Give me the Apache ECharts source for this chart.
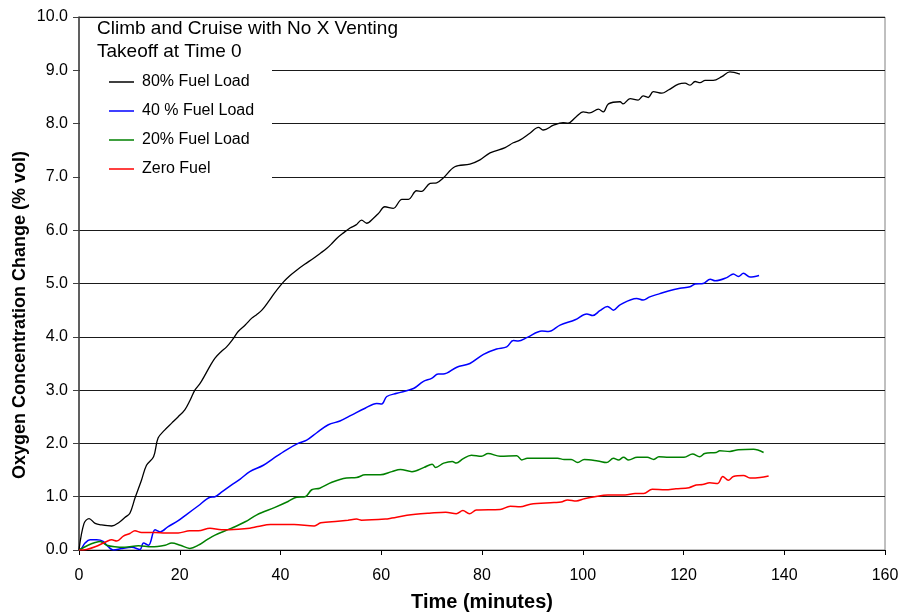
<!DOCTYPE html>
<html>
<head>
<meta charset="utf-8">
<title>Oxygen Concentration Change</title>
<script src="https://cdn.jsdelivr.net/npm/echarts@6/dist/echarts.min.js"></script>
<style>
  html, body { margin: 0; padding: 0; background: #fff; }
  #chart { width: 899px; height: 613px; }
</style>
</head>
<body>
<div id="chart"></div>
<script>
// Series labels, as they appear in the legend
const seriesNames = ['80% Fuel Load', '40 % Fuel Load', '20% Fuel Load', 'Zero Fuel'];

// [time (minutes), O2 change (% vol)]
const fuel80 = [[0,0],[1.0,0.5],[2.0,0.59],[3.2,0.50],[4.5,0.47],[6.5,0.45],[8.0,0.52],[9.1,0.61],[10.1,0.69],[11.1,0.97],[12.4,1.31],[13.4,1.59],[14.8,1.75],[15.7,2.10],[17.0,2.25],[18.4,2.38],[19.7,2.50],[21.0,2.63],[22.0,2.80],[23.0,3.00],[24.0,3.12],[25.0,3.28],[26.0,3.45],[27.0,3.60],[28.2,3.72],[29.3,3.81],[30.5,3.95],[31.6,4.10],[33.0,4.22],[34.3,4.35],[35.3,4.42],[36.3,4.50],[37.6,4.66],[38.8,4.82],[40.6,5.03],[41.9,5.15],[43.2,5.25],[44.8,5.36],[46.5,5.47],[47.8,5.56],[49.2,5.66],[50.2,5.75],[51.2,5.85],[52.5,5.95],[53.8,6.04],[55.0,6.10],[56.1,6.19],[57.1,6.13],[58.4,6.22],[59.5,6.32],[60.7,6.44],[62.4,6.41],[64.1,6.58],[65.4,6.58],[67.0,6.74],[68.0,6.73],[69.7,6.88],[71.0,6.89],[72.3,6.98],[74.6,7.19],[77.6,7.24],[79.6,7.32],[81.6,7.45],[84.6,7.55],[86.2,7.64],[87.5,7.69],[89.5,7.82],[91.2,7.93],[92.2,7.88],[94.2,7.97],[96.1,8.02],[97.1,8.01],[98.6,8.12],[100.1,8.22],[101.4,8.20],[103.1,8.27],[104.1,8.22],[105.1,8.37],[107.4,8.41],[108.0,8.37],[109.4,8.47],[111.0,8.44],[112.0,8.52],[113.0,8.49],[114.0,8.60],[115.7,8.57],[117.0,8.63],[119.0,8.74],[120.3,8.76],[121.3,8.72],[122.3,8.79],[123.3,8.77],[124.3,8.81],[125.9,8.81],[127.6,8.88],[129.2,8.97],[131.2,8.93]];

const fuel40 = [[0,0],[0.5,0.03],[1.2,0.13],[2.2,0.19],[3.5,0.19],[4.8,0.16],[5.8,0.06],[6.8,0.0],[8.5,0.03],[10.5,0.05],[12.1,0.01],[12.8,0.13],[13.8,0.09],[15.1,0.38],[16.1,0.34],[17.7,0.44],[19.7,0.55],[21.4,0.67],[23.7,0.83],[26.0,0.99],[27.0,1.0],[28.5,1.10],[30.3,1.22],[32.0,1.33],[33.9,1.47],[36.6,1.59],[38.6,1.72],[41.2,1.88],[43.5,2.0],[45.2,2.06],[47.2,2.20],[49.5,2.35],[51.8,2.42],[54.1,2.53],[56.8,2.66],[59.1,2.75],[60.1,2.74],[61.1,2.88],[63.1,2.94],[66.4,3.03],[68.3,3.16],[70.0,3.22],[71.3,3.30],[72.3,3.30],[75.0,3.43],[77.6,3.50],[80.3,3.67],[82.9,3.77],[84.9,3.81],[86.2,3.93],[87.2,3.92],[89.0,3.99],[91.9,4.11],[93.2,4.10],[95.5,4.22],[98.5,4.32],[100.8,4.43],[102.0,4.40],[103.4,4.49],[104.9,4.57],[106.1,4.50],[107.4,4.60],[110.7,4.72],[112.0,4.69],[113.3,4.75],[115.3,4.81],[117.0,4.86],[119.3,4.91],[121.3,4.94],[122.3,4.99],[123.9,5.00],[125.3,5.08],[126.3,5.05],[128.6,5.11],[129.9,5.18],[130.9,5.13],[131.9,5.19],[133.2,5.12],[135.0,5.15]];

const fuel20 = [[0,0],[1.8,0.09],[3.2,0.14],[4.2,0.16],[5.5,0.09],[7.1,0.06],[9.1,0.05],[11.8,0.08],[14.4,0.06],[17.1,0.09],[18.4,0.13],[20.1,0.09],[22.0,0.03],[23.7,0.09],[25.5,0.20],[27.0,0.28],[30.3,0.41],[33.0,0.53],[35.3,0.66],[38.9,0.80],[41.5,0.91],[43.2,0.99],[44.9,1.00],[46.2,1.13],[47.8,1.16],[50.2,1.27],[53.1,1.35],[55.1,1.36],[56.8,1.41],[59.8,1.41],[62.1,1.47],[63.8,1.51],[66.1,1.47],[68.5,1.55],[70.1,1.61],[70.8,1.55],[72.4,1.63],[74.1,1.66],[74.9,1.63],[76.2,1.71],[77.9,1.78],[79.9,1.76],[81.2,1.81],[83.6,1.76],[86.9,1.77],[87.9,1.69],[89.0,1.72],[95.0,1.72],[96.3,1.70],[97.7,1.70],[99.0,1.64],[100.3,1.70],[103.0,1.67],[104.7,1.64],[106.1,1.72],[107.1,1.69],[108.1,1.74],[109.1,1.69],[110.8,1.74],[112.8,1.74],[114.1,1.70],[115.1,1.75],[117.1,1.74],[120.1,1.74],[121.8,1.80],[123.2,1.75],[124.2,1.81],[126.5,1.83],[127.2,1.86],[129.2,1.85],[130.9,1.88],[133.9,1.89],[135.9,1.83]];

const fuelZero = [[0,0],[1.5,0.01],[3.2,0.06],[5.5,0.16],[6.5,0.19],[7.5,0.17],[8.8,0.26],[10.1,0.31],[11.1,0.36],[12.4,0.33],[15.1,0.33],[17.1,0.32],[19.7,0.32],[22.0,0.36],[23.7,0.36],[26.0,0.41],[28.3,0.38],[31.6,0.39],[33.9,0.41],[35.5,0.44],[38.0,0.48],[42.7,0.48],[46.7,0.45],[48.0,0.51],[51.4,0.54],[53.4,0.56],[55.1,0.58],[56.1,0.56],[60.8,0.58],[62.1,0.60],[65.1,0.65],[66.8,0.67],[69.5,0.69],[72.8,0.71],[74.9,0.68],[76.2,0.74],[77.5,0.68],[78.9,0.75],[83.6,0.76],[85.6,0.82],[87.6,0.81],[89.6,0.86],[94.3,0.89],[95.7,0.90],[97.0,0.94],[98.7,0.92],[100.3,0.96],[102.4,1.00],[105.0,1.03],[108.4,1.03],[110.4,1.06],[112.1,1.06],[113.8,1.14],[116.4,1.13],[118.5,1.15],[121.1,1.17],[122.5,1.22],[123.8,1.23],[125.2,1.26],[126.8,1.25],[127.8,1.38],[128.9,1.31],[129.9,1.38],[131.9,1.40],[133.2,1.35],[135.2,1.36],[136.9,1.39]];

const seriesData = [fuel80, fuel40, fuel20, fuelZero];
const seriesColors = ['#000000', '#0000ff', '#008000', '#ff0000'];
const seriesWidths = [1.3, 1.5, 1.5, 1.5];

const FONT = 'Arial, "Liberation Sans", sans-serif';

const chart = echarts.init(document.getElementById('chart'), null, { renderer: 'canvas' });

chart.setOption({
  backgroundColor: '#ffffff',
  animation: false,
  textStyle: { fontFamily: FONT, color: '#000' },
  grid: {
    left: 79, right: 14, top: 17, bottom: 63,
    outerBoundsMode: 'none',
    containLabel: false,
    show: true, borderColor: '#808080', borderWidth: 1, backgroundColor: 'transparent'
  },
  title: {
    text: 'Climb and Cruise with No X Venting\nTakeoff at Time 0',
    left: 97, top: 17, padding: 0,
    textStyle: { fontFamily: FONT, fontSize: 19, fontWeight: 'normal', color: '#000', lineHeight: 23 }
  },
  legend: {
    orient: 'vertical',
    left: 109, top: 73, padding: 0,
    icon: 'rect',
    itemWidth: 25, itemHeight: 1.5, itemGap: 11,
    data: seriesNames,
    textStyle: { fontFamily: FONT, fontSize: 16, lineHeight: 18, color: '#000', padding: [0, 0, 0, 3] }
  },
  graphic: [{
    type: 'rect',
    z: 1,
    shape: { x: 80, y: 18, width: 192, height: 167 },
    style: { fill: '#ffffff' },
    silent: true
  }],
  xAxis: {
    type: 'value',
    min: 0, max: 160, interval: 20,
    name: 'Time (minutes)',
    nameLocation: 'middle',
    nameGap: 42,
    nameMoveOverlap: false,
    nameTextStyle: { fontFamily: FONT, fontSize: 20, fontWeight: 'bold', color: '#000' },
    axisLine: { show: true, onZero: false, lineStyle: { color: '#000', width: 1 } },
    axisTick: { show: true, length: 5, lineStyle: { color: '#000' } },
    axisLabel: { fontFamily: FONT, fontSize: 16, color: '#000', margin: 18 },
    splitLine: { show: false }
  },
  yAxis: {
    type: 'value',
    min: 0, max: 10, interval: 1,
    name: 'Oxygen Concentration Change (% vol)',
    nameLocation: 'middle',
    nameGap: 50,
    nameMoveOverlap: false,
    nameTextStyle: { fontFamily: FONT, fontSize: 18, fontWeight: 'bold', color: '#000', padding: [0, 63, 0, 0] },
    axisLine: { show: true, lineStyle: { color: '#404040', width: 1.5 } },
    axisTick: { show: true, length: 6, lineStyle: { color: '#404040' } },
    axisLabel: { fontFamily: FONT, fontSize: 16, color: '#000', margin: 11, formatter: v => v.toFixed(1) },
    splitLine: { show: true, lineStyle: { color: '#1a1a1a', width: 1 } }
  },
  series: seriesNames.map((name, i) => ({
    name: name,
    type: 'line',
    data: seriesData[i],
    symbol: 'none',
    smooth: 0.35,
    z: 3,
    color: seriesColors[i],
    lineStyle: { color: seriesColors[i], width: seriesWidths[i] }
  }))
});
</script>
</body>
</html>
